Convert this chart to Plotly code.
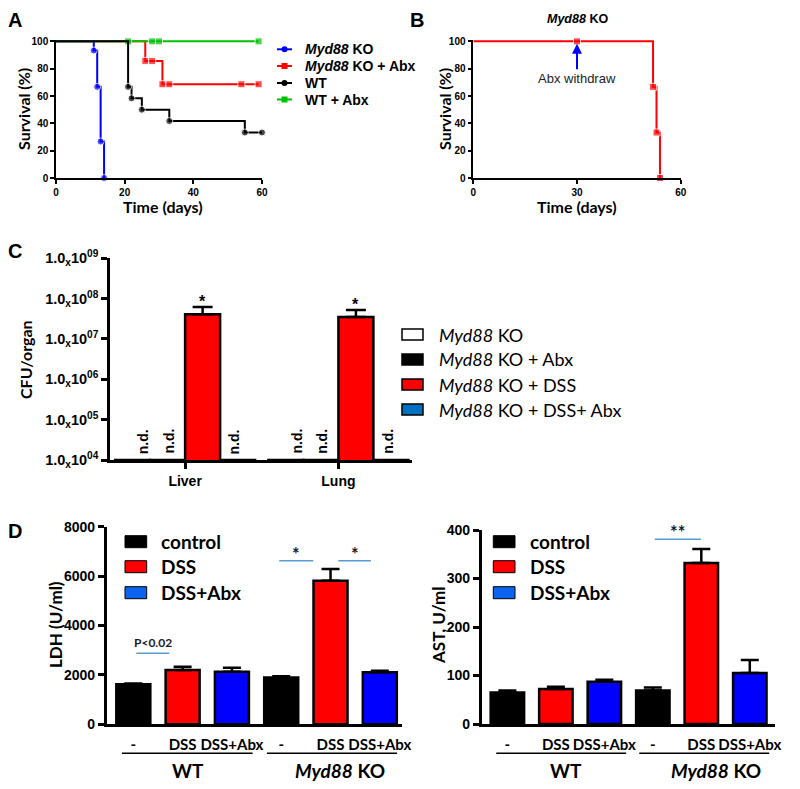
import math
import plotly.graph_objects as go

# ---------------- data ----------------
# A: survival curves (time in days, survival in %)
ko_t = [0, 11, 12, 13, 14]
ko_s = [100, 93.3, 66.7, 26.7, 0]
ko_abx_t = [0, 26, 28, 31, 33, 54, 59]
ko_abx_s = [100, 85.7, 85.7, 68.6, 68.6, 68.6, 68.6]
wt_t = [0, 21, 22, 25, 33, 55, 60]
wt_s = [100, 66.7, 58.3, 50, 41.7, 33.3, 33.3]
wt_abx_t = [0, 21, 28, 30, 59]
wt_abx_s = [100, 100, 100, 100, 100]

# B: Myd88 KO after antibiotics withdrawn
b_t = [0, 30, 52, 53, 54]
b_s = [100, 100, 66.7, 33.3, 0]
abx_withdraw_day = 30

# C: CFU per organ
organs = ["Liver", "Lung"]
cfu_ko = [1e4, 1e4]
cfu_ko_abx = [1e4, 1e4]
cfu_ko_dss = [4.1e7, 3.5e7]
cfu_ko_dss_err = [2.1e7, 1.7e7]
cfu_ko_dss_abx = [1e4, 1e4]

# D: serum LDH and AST
d_ticklabels = ["-", "DSS", "DSS+Abx", "-", "DSS", "DSS+Abx"]
d_groups = ["WT", "<i>Myd88</i> KO"]
ldh_ctrl = [1620, 1890]
ldh_ctrl_err = [30, 60]
ldh_dss = [2200, 5810]
ldh_dss_err = [130, 480]
ldh_abx = [2130, 2105]
ldh_abx_err = [160, 65]
ast_ctrl = [65, 69]
ast_ctrl_err = [4, 6]
ast_dss = [72, 332]
ast_dss_err = [5, 29]
ast_abx = [87, 105]
ast_abx_err = [4, 27]

# ---------------- helpers ----------------
W, H = 800, 789
OFF = 8  # page body margin
ARIAL = "Liberation Sans, Arial"
CAL = "Lato, Carlito, Calibri"
BLUE, RED, GREEN = "#0000ff", "#ff0000", "#00c000"


def px(x):
    return (x - OFF) / W


def py(y):
    return 1 - (y - OFF) / H


def axis(dom, rng, anchor, lw=2, tl=5, fs=13, family=ARIAL, **kw):
    d = dict(domain=dom, range=rng, anchor=anchor, showline=True, linecolor="black", linewidth=lw,
             ticks="outside", ticklen=tl, tickwidth=lw, tickcolor="black",
             showgrid=False, zeroline=False, automargin=False,
             tickfont=dict(family=family, size=fs, color="black", weight="bold"))
    d.update(kw)
    return d


fig = go.Figure()

# ---- A ----
for t, s, c, sym in [(ko_abx_t, ko_abx_s, RED, "square"), (ko_t, ko_s, BLUE, "circle"),
                     (wt_abx_t, wt_abx_s, GREEN, "square"), (wt_t, wt_s, "black", "circle")]:
    fig.add_trace(go.Scatter(x=t, y=s, mode="lines+markers", xaxis="x", yaxis="y",
                             line=dict(shape="hv", color=c, width=2),
                             marker=dict(symbol=sym, color=c, size=[0] + [7] * (len(t) - 1)),
                             cliponaxis=False, showlegend=False))

# ---- B ----
fig.add_trace(go.Scatter(x=b_t, y=b_s, mode="lines+markers", xaxis="x2", yaxis="y2",
                         line=dict(shape="hv", color=RED, width=2),
                         marker=dict(symbol="square", color=RED, size=[0] + [7] * (len(b_t) - 1)),
                         cliponaxis=False, showlegend=False))

# ---- C ----
c_colors = ["white", "black", RED, "#0070c0"]
for vals, col in zip([cfu_ko, cfu_ko_abx, cfu_ko_dss, cfu_ko_dss_abx], c_colors):
    err = None
    if vals is cfu_ko_dss:
        err = dict(type="data", array=cfu_ko_dss_err, arrayminus=[0, 0], symmetric=False,
                   color="black", thickness=2.5, width=10)
    fig.add_trace(go.Bar(x=organs, y=vals, xaxis="x3", yaxis="y3", marker_color=col,
                         marker_line=dict(color="black", width=2.5), error_y=err,
                         showlegend=False))

# ---- D ----
bw = 0.69
for (ya, xa), data in [(("y4", "x4"), [(ldh_ctrl, ldh_ctrl_err), (ldh_dss, ldh_dss_err), (ldh_abx, ldh_abx_err)]),
                       (("y5", "x5"), [(ast_ctrl, ast_ctrl_err), (ast_dss, ast_dss_err), (ast_abx, ast_abx_err)])]:
    for k, ((vals, errs), col) in enumerate(zip(data, ["black", RED, BLUE])):
        fig.add_trace(go.Bar(x=[k, k + 3], y=vals, xaxis=xa, yaxis=ya, width=bw, offset=-bw / 2,
                             marker_color=col, marker_line=dict(color="black", width=2.5),
                             error_y=dict(type="data", array=errs, arrayminus=[0, 0], symmetric=False,
                                          color="black", thickness=2.5, width=9),
                             showlegend=False))

pct = [0, 20, 40, 60, 80, 100]
fig.update_layout(
    width=W, height=H, margin=dict(l=0, r=0, t=0, b=0, autoexpand=False),
    plot_bgcolor="white", paper_bgcolor="white",
    barmode="group", bargap=0.087, bargroupgap=0,
    xaxis=axis([px(56), px(262)], [0, 60], "y", lw=1.5, tl=4, fs=10, tickvals=[0, 20, 40, 60]),
    yaxis=axis([py(178), py(40)], [0, 101], "x", lw=1.5, tl=4, fs=10, tickvals=pct),
    xaxis2=axis([px(473.3), px(680.7)], [0, 60], "y2", lw=1.5, tl=4, fs=10, tickvals=[0, 30, 60]),
    yaxis2=axis([py(178), py(40)], [0, 101], "x2", lw=1.5, tl=4, fs=10, tickvals=pct),
    xaxis3=axis([px(110), px(412)], [-0.49, 1.48], "y3", lw=2.5, tl=6, fs=14, type="category"),
    yaxis3=axis([py(460), py(258.3)], [4, 9], "x3", lw=2.5, tl=6, fs=14.5, type="log",
                tickvals=[1e4, 1e5, 1e6, 1e7, 1e8, 1e9],
                ticktext=["1.0<sub>x</sub>10<sup>0%d</sup>" % e for e in range(4, 10)]),
    xaxis4=axis([px(106.7), px(402)], [-0.54, 5.45], "y4", lw=2.5, fs=15, family=CAL, ticks="",
                tickvals=list(range(6)), ticktext=d_ticklabels, ticklabelstandoff=5),
    yaxis4=axis([py(724.3), py(526.7)], [0, 8000], "x4", lw=2.5, tl=6, fs=14,
                tickvals=[0, 2000, 4000, 6000, 8000]),
    xaxis5=axis([px(481.7), px(775)], [-0.53, 5.52], "y5", lw=2.5, fs=15, family=CAL, ticks="",
                tickvals=list(range(6)), ticktext=d_ticklabels, ticklabelstandoff=5),
    yaxis5=axis([py(724), py(530)], [0, 400], "x5", lw=2.5, tl=6, fs=14,
                tickvals=[0, 100, 200, 300, 400]),
)

ann = []
shapes = []


def text(x, y, s, size, family=CAL, bold=True, xanchor="center", angle=0, color="black", xref="paper", yref="paper"):
    ann.append(dict(x=x, y=y, xref=xref, yref=yref, text=s, showarrow=False, xanchor=xanchor,
                    yanchor="middle", textangle=angle,
                    font=dict(family=family, size=size, color=color, weight="bold" if bold else "normal")))


# panel letters
for s, x, y in [("A", 15, 20), ("B", 417, 20), ("C", 15, 251), ("D", 15, 531)]:
    text(px(x), py(y), s, 20, family=ARIAL)

# axis titles A / B
text(px(24), py(109), "Survival (%)", 16, angle=-90)
text(px(163), py(207), "Time (days)", 16)
text(px(445), py(109), "Survival (%)", 16, angle=-90)
text(px(577), py(207), "Time (days)", 16)
text(px(577), py(19), "<i>Myd88</i> KO", 12.5, family=ARIAL)

# A legend
a_leg = [("<i>Myd88</i> KO", BLUE, "circle"), ("<i>Myd88</i> KO + Abx", RED, "square"),
         ("WT", "black", "circle"), ("WT + Abx", GREEN, "square")]
for i, (lab, col, sym) in enumerate(a_leg):
    yy = [49.3, 66, 83, 99.5][i]
    shapes.append(dict(type="line", xref="paper", yref="paper", x0=px(277), x1=px(292), y0=py(yy), y1=py(yy),
                       line=dict(color=col, width=2)))
    shapes.append(dict(type="circle" if sym == "circle" else "rect", xref="paper", yref="paper",
                       x0=px(281.5), x1=px(287.5), y0=py(yy + 3), y1=py(yy - 3),
                       fillcolor=col, line=dict(color=col, width=0)))
    text(px(303), py(yy), lab, 14, family=ARIAL, xanchor="left")

# B arrow
ann.append(dict(x=abx_withdraw_day, y=98.3, xref="x2", yref="y2", ax=abx_withdraw_day, ay=73,
                axref="x2", ayref="y2", text="Abx withdraw", showarrow=True, arrowhead=2,
                arrowsize=1, arrowwidth=2, arrowcolor=BLUE,
                font=dict(family=ARIAL, size=13, color="#222222")))

# C labels
text(px(25), py(360), "CFU/organ", 16, angle=-90)
for k, org in enumerate(organs):
    yt = cfu_ko_dss[k] + cfu_ko_dss_err[k]
    ann.append(dict(x=org, y=math.log10(yt), xref="x3", yref="y3", text="*", showarrow=False,
                    xshift=0.114 * 153, yanchor="bottom", yshift=-5,
                    font=dict(family=ARIAL, size=16, color="black", weight="bold")))
    for off in [-0.27, -0.105, 0.325]:
        ann.append(dict(x=k + off, y=4, xref="x3", yref="y3", text="n.d.", showarrow=False,
                        textangle=-90, yanchor="bottom", yshift=4,
                        font=dict(family=ARIAL, size=14, color="black", weight="bold")))

c_leg = [("<i>Myd88</i> KO", "white"), ("<i>Myd88</i> KO + Abx", "black"),
         ("<i>Myd88</i> KO + DSS", RED), ("<i>Myd88</i> KO + DSS+ Abx", "#0070c0")]
for i, (lab, col) in enumerate(c_leg):
    yy = 334.5 + 25 * i
    shapes.append(dict(type="rect", xref="paper", yref="paper", x0=px(402), x1=px(423),
                       y0=py(yy + 5.5), y1=py(yy - 5.5), fillcolor=col, line=dict(color="black", width=1.5)))
    text(px(437), py(yy), lab, 18, bold=False, xanchor="left")

# D
text(px(55), py(625), "LDH (U/ml)", 17, angle=-90)
text(px(438), py(625), "AST, U/ml", 17, angle=-90)
d_leg = [("control", "black"), ("DSS", RED), ("DSS+Abx", "#0a64f0")]
for x0, xt in [(125, 159), (493.3, 527.7)]:
    for i, (lab, col) in enumerate(d_leg):
        yy = [541.7, 566.7, 592.7][i]
        shapes.append(dict(type="rect", xref="paper", yref="paper", x0=px(x0), x1=px(x0 + 21.7),
                           y0=py(yy + 6), y1=py(yy - 6), fillcolor=col, line=dict(color="black", width=1)))
        text(px(xt), py(yy), lab, 19, xanchor="left")

for xa, spans, centers in [("x4", [(-0.23, 2.42), (2.71, 5.35)], [1.1, 4.2]),
                           ("x5", [(-0.23, 2.45), (2.72, 5.4)], [1.2, 4.3])]:
    for (a, b), c, g in zip(spans, centers, d_groups):
        shapes.append(dict(type="line", xref=xa, yref="paper", x0=a, x1=b, y0=py(753.3), y1=py(753.3),
                           line=dict(color="black", width=1.5)))
        text(c, py(770), g, 19, xref=xa)

SIG = "#5b9bd5"
for xa, ya, x0, x1, y, lab, size, ys in [("x4", "y4", 0.06, 0.73, 2874, "P<0.02", 12, 1),
                                         ("x4", "y4", 2.96, 3.65, 6623, "*", 18, -6),
                                         ("x4", "y4", 4.16, 4.82, 6623, "*", 18, -6),
                                         ("x5", "y5", 3.04, 3.99, 381, "**", 18, -6)]:
    shapes.append(dict(type="line", xref=xa, yref=ya, x0=x0, x1=x1, y0=y, y1=y, line=dict(color=SIG, width=1.5)))
    ann.append(dict(x=(x0 + x1) / 2, y=y, xref=xa, yref=ya, text=lab, showarrow=False, yanchor="bottom",
                    yshift=ys, font=dict(family=CAL, size=size, color="#1a1a2e", weight="bold")))

fig.update_layout(annotations=ann, shapes=shapes)
fig.write_html("out.html")
